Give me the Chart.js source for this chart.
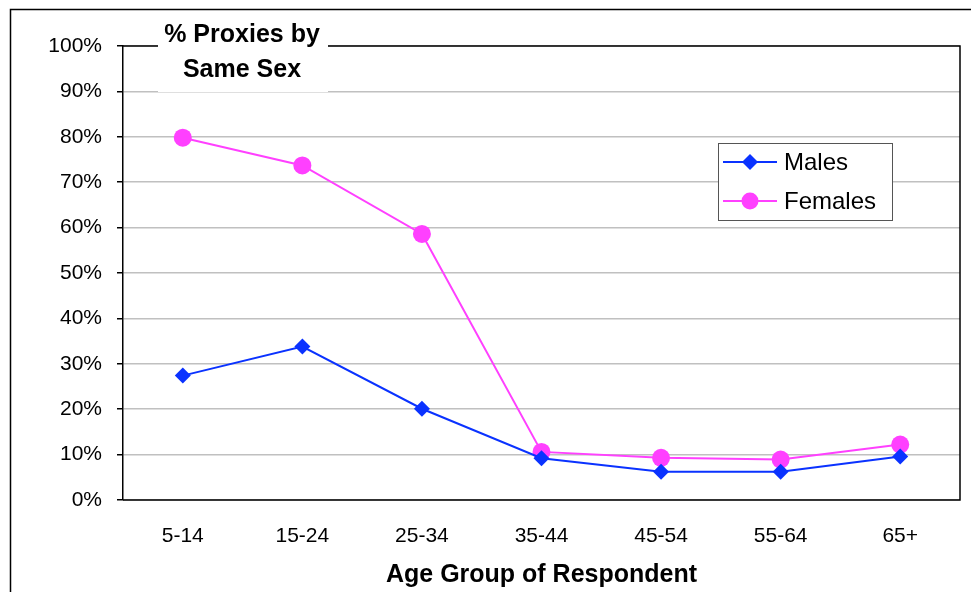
<!DOCTYPE html>
<html>
<head>
<meta charset="utf-8">
<script src="https://cdn.jsdelivr.net/npm/chart.js@4/dist/chart.umd.min.js"></script>
<style>
  body { margin: 0; background: #fff; }
  #chart { display: block; }
</style>
</head>
<body>
<canvas id="chart" width="971" height="592"></canvas>
<script>
const ageGroups = ["5-14", "15-24", "25-34", "35-44", "45-54", "55-64", "65+"];
const males = [27.4, 33.8, 20.1, 9.2, 6.2, 6.2, 9.6];
const females = [79.8, 73.7, 58.6, 10.6, 9.3, 8.9, 12.2];
const titleLines = ["% Proxies by", "Same Sex"];
const legendLabels = ["Males", "Females"];

const blue = "#0a32ff";
const pink = "#ff40ff";
const fontName = "'Liberation Sans', Arial, sans-serif";

function drawDiamond(ctx, x, y, r) {
  ctx.beginPath();
  ctx.moveTo(x, y - r);
  ctx.lineTo(x + r, y);
  ctx.lineTo(x, y + r);
  ctx.lineTo(x - r, y);
  ctx.closePath();
  ctx.fill();
}

// frame, plot border, title box and legend
const decorations = {
  id: "decorations",
  beforeDraw(chart) {
    const ctx = chart.ctx;
    ctx.save();
    ctx.fillStyle = "#fff";
    ctx.fillRect(0, 0, chart.width, chart.height);
    ctx.strokeStyle = "#000";
    ctx.lineWidth = 1.5;
    ctx.beginPath();
    ctx.moveTo(10.5, chart.height);
    ctx.lineTo(10.5, 9.5);
    ctx.lineTo(chart.width, 9.5);
    ctx.stroke();
    ctx.restore();
  },
  afterDatasetsDraw(chart) {
    const ctx = chart.ctx;
    const a = chart.chartArea;
    ctx.save();
    ctx.strokeStyle = "#000";
    ctx.lineWidth = 1.5;
    ctx.beginPath();
    ctx.moveTo(a.left, a.top);
    ctx.lineTo(a.right, a.top);
    ctx.lineTo(a.right, a.bottom);
    ctx.lineTo(a.left, a.bottom);
    ctx.stroke();

    // title box
    ctx.fillStyle = "#fff";
    ctx.fillRect(158, 14, 170, 78);
    ctx.fillStyle = "#000";
    ctx.font = "bold 25px " + fontName;
    ctx.textAlign = "center";
    ctx.textBaseline = "alphabetic";
    ctx.fillText(titleLines[0], 242, 42);
    ctx.fillText(titleLines[1], 242, 77);

    // legend
    ctx.fillStyle = "#fff";
    ctx.fillRect(718, 143, 174, 77);
    ctx.strokeStyle = "#555";
    ctx.lineWidth = 1;
    ctx.strokeRect(718.5, 143.5, 174, 77);
    const rows = [
      { y: 162, color: blue, shape: "diamond" },
      { y: 201, color: pink, shape: "circle" }
    ];
    rows.forEach((row, i) => {
      ctx.strokeStyle = row.color;
      ctx.lineWidth = 2;
      ctx.beginPath();
      ctx.moveTo(723, row.y);
      ctx.lineTo(777, row.y);
      ctx.stroke();
      ctx.fillStyle = row.color;
      if (row.shape === "diamond") {
        drawDiamond(ctx, 750, row.y, 8);
      } else {
        ctx.beginPath();
        ctx.arc(750, row.y, 8.5, 0, Math.PI * 2);
        ctx.fill();
      }
      ctx.fillStyle = "#000";
      ctx.font = "24px " + fontName;
      ctx.textAlign = "left";
      ctx.textBaseline = "middle";
      ctx.fillText(legendLabels[i], 784, row.y + 1);
    });
    ctx.restore();
  }
};

new Chart(document.getElementById("chart"), {
  type: "line",
  data: {
    labels: ageGroups,
    datasets: [
      {
        label: legendLabels[0],
        data: males,
        borderColor: blue,
        backgroundColor: blue,
        borderWidth: 2,
        pointStyle: "rectRot",
        pointRadius: 8,
        pointBorderWidth: 0,
        tension: 0
      },
      {
        label: legendLabels[1],
        data: females,
        borderColor: pink,
        backgroundColor: pink,
        borderWidth: 2,
        pointStyle: "circle",
        pointRadius: 9,
        pointBorderWidth: 0,
        tension: 0
      }
    ]
  },
  options: {
    responsive: false,
    animation: false,
    layout: { padding: { top: 46, right: 11, left: 0, bottom: 0 } },
    plugins: {
      legend: { display: false },
      tooltip: { enabled: false }
    },
    scales: {
      x: {
        offset: true,
        grid: { display: false, drawTicks: false, tickLength: 0 },
        border: { display: false },
        ticks: {
          color: "#000",
          padding: 24,
          font: { family: fontName, size: 21 }
        },
        title: {
          display: true,
          text: "Age Group of Respondent",
          color: "#000",
          font: { family: fontName, size: 25, weight: "bold" },
          padding: { top: 0, bottom: 2 }
        },
        afterFit(scale) { scale.height = 92; }
      },
      y: {
        min: 0,
        max: 100,
        grid: { color: "#c0c0c0", lineWidth: 1.5, tickColor: "#000", tickLength: 6 },
        border: { color: "#000", width: 1.5 },
        ticks: {
          stepSize: 10,
          color: "#000",
          padding: 15,
          font: { family: fontName, size: 21 },
          callback: (v) => v + "%"
        },
        afterFit(scale) { scale.width = 123; }
      }
    }
  },
  plugins: [decorations]
});
</script>
</body>
</html>
